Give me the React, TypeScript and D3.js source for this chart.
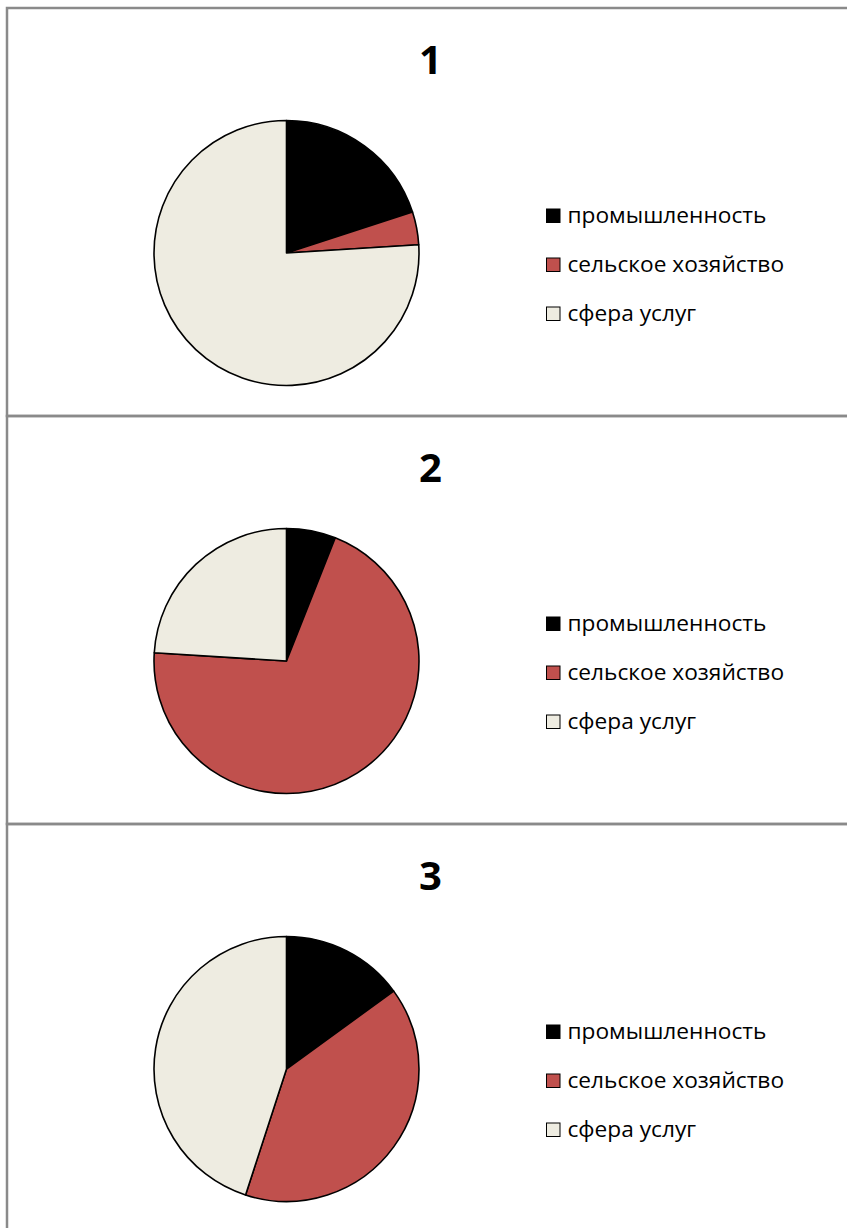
import * as d3 from "d3";

const categories = ["промышленность", "сельское хозяйство", "сфера услуг"];
const colors = ["#000000", "#C0504D", "#EEECE1"];
const titles = ["1", "2", "3"];
const values1 = [20, 4, 76];
const values2 = [6, 70, 24];
const values3 = [15, 40, 45];
const panelValues = [values1, values2, values3];

const width = 847;
const height = 1228;
const panelTop = 8;
const panelHeight = 408;
const radius = 132.5;
const cx = 286.5;
const cyOffset = 245;

const App = () => {
  const pie = d3
    .pie<number>()
    .sort(null)
    .value((d) => d);
  const arc = d3.arc<d3.PieArcDatum<number>>().innerRadius(0).outerRadius(radius);
  const color = d3.scaleOrdinal<string, string>().domain(categories).range(colors);
  const legendY = d3
    .scaleBand()
    .domain(categories)
    .range([183.5, 330.5])
    .paddingInner(0);

  return (
    <svg
      width={width}
      height={height}
      style={{ position: "absolute", left: 0, top: 0, background: "#fff" }}
    >
      {panelValues.map((vals, i) => {
        const y0 = panelTop + i * panelHeight;
        return (
          <g key={i} transform={`translate(0, ${y0})`}>
            <rect
              x={7}
              y={0}
              width={900}
              height={panelHeight}
              fill="none"
              stroke="#8a8a8a"
              strokeWidth={2.5}
            />
            <text
              x={430.5}
              y={66}
              textAnchor="middle"
              fontFamily="'Open Sans', sans-serif"
              fontWeight="bold"
              fontSize={40}
              fill="#000"
            >
              {titles[i]}
            </text>
            <g transform={`translate(${cx}, ${cyOffset})`}>
              {pie(vals).map((d, j) => (
                <path
                  key={j}
                  d={arc(d) ?? ""}
                  fill={color(categories[j])}
                  stroke="#000"
                  strokeWidth={1.6}
                  strokeLinejoin="round"
                />
              ))}
            </g>
            {categories.map((c) => {
              const ly = (legendY(c) ?? 0) + legendY.bandwidth() / 2;
              return (
                <g key={c} transform={`translate(546, ${ly})`}>
                  <rect
                    x={0.5}
                    y={-7}
                    width={13.5}
                    height={13.5}
                    fill={color(c)}
                    stroke="#000"
                    strokeWidth={1}
                  />
                  <text
                    x={21.5}
                    y={7}
                    fontFamily="'Open Sans', sans-serif"
                    fontSize={22.7}
                    fill="#000"
                  >
                    {c}
                  </text>
                </g>
              );
            })}
          </g>
        );
      })}
    </svg>
  );
};

export default App;
